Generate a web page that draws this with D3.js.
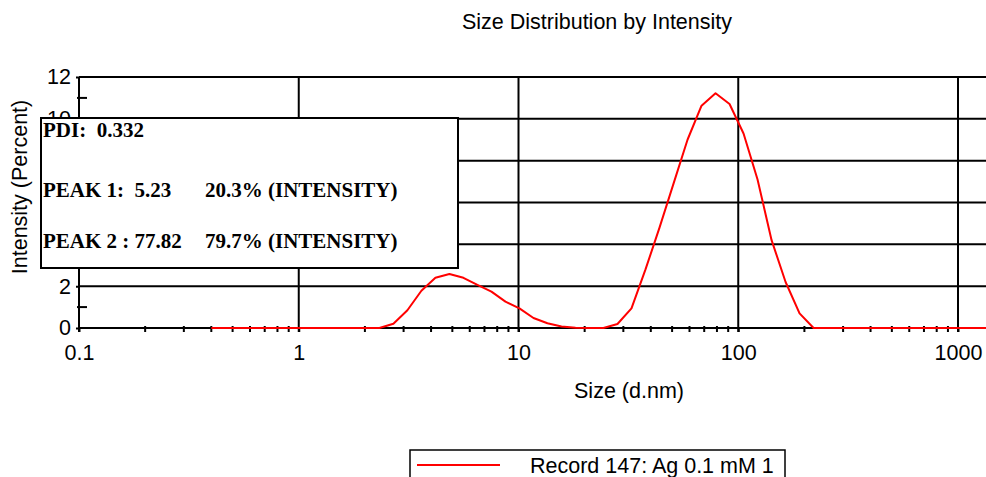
<!DOCTYPE html>
<html><head><meta charset="utf-8">
<script src="https://cdn.jsdelivr.net/npm/d3@7"></script>
<style>
html,body{margin:0;padding:0;background:#fff;overflow:hidden}
</style></head>
<body><svg id="c" width="986" height="477" font-family="Liberation Sans, Arial, sans-serif"></svg>
<script>
// Size bins (d.nm)
const sizes = [0.4,0.4632,0.5365,0.6213,0.7195,0.8332,0.9649,1.117,1.294,1.499,1.736,2.01,2.328,2.696,3.122,3.615,4.187,4.849,5.615,6.503,7.531,8.721,10.1,11.7,13.54,15.69,18.17,21.04,24.36,28.21,32.67,37.84,43.82,50.75,58.77,68.06,78.82,91.28,105.7,122.4,141.8,164.2,190.1,220.2,255.0,295.3,342.0,396.1,458.7,531.2,615.1,712.4,825.0,955.4,1106,1281,1484];
// Intensity (%)
const intensity = [0,0,0,0,0,0,0,0,0,0,0,0,0,0.2,0.85,1.78,2.4,2.58,2.4,2.06,1.74,1.26,0.94,0.48,0.23,0.07,0.01,0,0,0.19,0.94,2.8,4.8,6.9,9.0,10.63,11.22,10.71,9.3,7.1,4.2,2.2,0.7,0,0,0,0,0,0,0,0,0,0,0,0,0,0];
const xTicks = [0.1,1,10,100,1000];
const xTickLabels = ["0.1","1","10","100","1000"];
const yTicks = [0,2,4,6,8,10,12];
const yMinor = [1,3,5,7,9,11];
const title = "Size Distribution by Intensity";
const xTitle = "Size (d.nm)";
const yTitle = "Intensity (Percent)";
const infoLines = [["PDI:  0.332",""],["PEAK 1:  5.23","20.3% (INTENSITY)"],["PEAK 2 : 77.82","79.7% (INTENSITY)"]];
const legendLabel = "Record 147: Ag 0.1 mM 1";

const svg = d3.select("#c");
const x = d3.scaleLog().domain([0.1,1000]).range([79,958]);
const y = d3.scaleLinear().domain([0,12]).range([328,77]);
const RIGHT = 990;
const FS = "21.5px";
const BOX = {x:41, y:118, w:417, h:150};

// clip for y labels hidden by the info box
const defs = svg.append("defs");
defs.append("clipPath").attr("id","outsideBox").append("path")
  .attr("d",`M0,0H986V477H0Z M${BOX.x},${BOX.y}V${BOX.y+BOX.h}H${BOX.x+BOX.w}V${BOX.y}Z`)
  .attr("clip-rule","evenodd");

// title
svg.append("text").attr("x",597).attr("y",29).attr("text-anchor","middle").attr("font-size","21.5px").text(title);

// horizontal gridlines
svg.append("g").selectAll("line").data(yTicks.filter(d=>d>0)).join("line")
  .attr("x1",x(0.1)).attr("x2",RIGHT).attr("y1",d=>y(d)).attr("y2",d=>y(d))
  .attr("stroke","#000").attr("stroke-width",2);
// vertical gridlines
svg.append("g").selectAll("line").data(xTicks.slice(1)).join("line")
  .attr("x1",d=>x(d)).attr("x2",d=>x(d)).attr("y1",y(12)).attr("y2",y(0)+4)
  .attr("stroke","#000").attr("stroke-width",2);

// minor x ticks
const minorX = [];
[0.1,1,10,100,1000].forEach(dec=>{for(let m=2;m<=9;m++) minorX.push(dec*m);});
svg.append("g").selectAll("line").data(minorX.filter(d=>x(d)<RIGHT)).join("line")
  .attr("x1",d=>x(d)).attr("x2",d=>x(d)).attr("y1",y(0)-2).attr("y2",y(0)+4)
  .attr("stroke","#000").attr("stroke-width",2);
// minor y ticks
svg.append("g").selectAll("line").data(yMinor).join("line")
  .attr("x1",x(0.1)-2).attr("x2",x(0.1)+8).attr("y1",d=>y(d)).attr("y2",d=>y(d))
  .attr("stroke","#000").attr("stroke-width",2);

// x axis
const xAxis = svg.append("g").attr("transform",`translate(0,${y(0)})`)
  .call(d3.axisBottom(x).tickValues(xTicks).tickFormat((d,i)=>xTickLabels[i]).tickSize(4).tickPadding(13));
xAxis.select(".domain").attr("d",`M${x(0.1)},0H${RIGHT}`).attr("stroke","#000").attr("stroke-width",2);
xAxis.selectAll("line").attr("stroke-width",2);
xAxis.selectAll("text").attr("font-size",FS).attr("font-family","Liberation Sans, Arial, sans-serif").attr("fill","#000");

// y axis (labels behind the info box are clipped, as in the original)
const yAxis = svg.append("g").attr("clip-path","url(#outsideBox)").append("g").attr("transform",`translate(${x(0.1)},0)`)
  .call(d3.axisLeft(y).tickValues(yTicks).tickSize(3).tickPadding(5));
yAxis.select(".domain").attr("d",`M0,${y(12)}V${y(0)+4}`).attr("stroke","#000").attr("stroke-width",2);
yAxis.selectAll("line").attr("stroke-width",2);
yAxis.selectAll("text").attr("font-size",FS).attr("font-family","Liberation Sans, Arial, sans-serif").attr("fill","#000");
yAxis.selectAll(".tick").filter(d=>d>2 && d<10).remove();

// data line
const line = d3.line().x((d,i)=>x(sizes[i])).y(d=>y(d));
svg.append("path").datum(intensity).attr("d",line).attr("fill","none")
  .attr("stroke","#ff0000").attr("stroke-width",2).attr("stroke-linejoin","round");

// axis titles
svg.append("text").attr("x",629).attr("y",398).attr("text-anchor","middle").attr("font-size",FS).text(xTitle);
svg.append("text").attr("transform","translate(27,187) rotate(-90)").attr("text-anchor","middle").attr("font-size",FS).text(yTitle);

// info box
svg.append("rect").attr("x",BOX.x).attr("y",BOX.y).attr("width",BOX.w).attr("height",BOX.h)
  .attr("fill","#fff").attr("stroke","#000").attr("stroke-width",2);
const infoY = [137,197,248];
const serif = "Liberation Serif, Times New Roman, serif";
infoLines.forEach((l,i)=>{
  svg.append("text").attr("x",43).attr("y",infoY[i]).style("font-family",serif).style("white-space","pre")
    .attr("font-weight","bold").attr("font-size","21px").text(l[0]);
  if(l[1]) svg.append("text").attr("x",205).attr("y",infoY[i]).style("font-family",serif).style("white-space","pre")
    .attr("font-weight","bold").attr("font-size","21px").text(l[1]);
});

// legend
svg.append("rect").attr("x",410).attr("y",450).attr("width",375).attr("height",40)
  .attr("fill","#fff").attr("stroke","#000").attr("stroke-width",1.5);
svg.append("line").attr("x1",417).attr("x2",500).attr("y1",465).attr("y2",465).attr("stroke","#ff0000").attr("stroke-width",2);
svg.append("text").attr("x",530).attr("y",473).attr("font-size",FS).text(legendLabel);
</script></body></html>
